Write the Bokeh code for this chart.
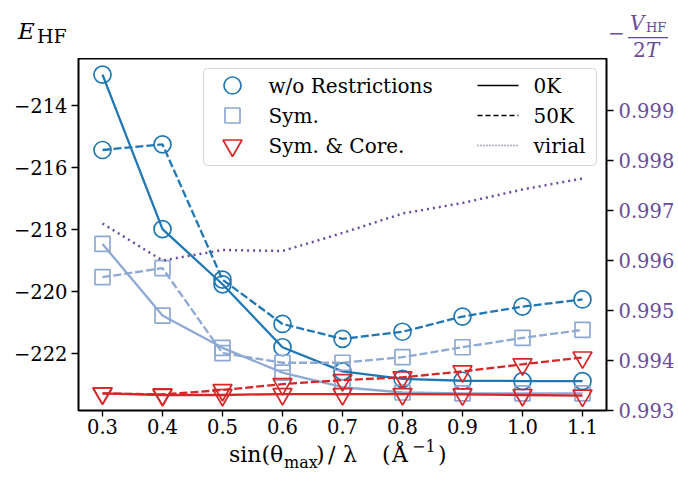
from bokeh.plotting import figure
from bokeh.layouts import column
from bokeh.models import Range1d, LinearAxis, FixedTicker, BoxAnnotation, Div
from bokeh.core.properties import value
from bokeh.embed import file_html
from bokeh.resources import INLINE

# ---------------- data ----------------
x_vals = [0.3, 0.4, 0.5, 0.6, 0.7, 0.8, 0.9, 1.0, 1.1]
wo_0K = [-213.02, -218.00, -219.78, -221.81, -222.59, -222.83, -222.89, -222.90, -222.90]
wo_50K = [-215.45, -215.27, -219.63, -221.06, -221.54, -221.31, -220.82, -220.50, -220.27]
sym_0K = [-218.48, -220.79, -221.83, -222.63, -223.10, -223.27, -223.30, -223.30, -223.30]
sym_50K = [-219.55, -219.26, -222.00, -222.31, -222.31, -222.13, -221.81, -221.51, -221.25]
core_0K = [-223.30, -223.35, -223.35, -223.32, -223.32, -223.32, -223.33, -223.35, -223.37]
core_50K = [-223.30, -223.33, -223.19, -223.00, -222.87, -222.78, -222.59, -222.36, -222.14]
virial = [0.99674, 0.99600, 0.99621, 0.99619, 0.99655, 0.99694, 0.99715, 0.99742, 0.99764]

x_ticks = [0.3, 0.4, 0.5, 0.6, 0.7, 0.8, 0.9, 1.0, 1.1]
x_tick_labels = ["0.3", "0.4", "0.5", "0.6", "0.7", "0.8", "0.9", "1.0", "1.1"]
left_ticks = [-222, -220, -218, -216, -214]
left_tick_labels = ["\u2212222", "\u2212220", "\u2212218", "\u2212216", "\u2212214"]
right_ticks = [0.993, 0.994, 0.995, 0.996, 0.997, 0.998, 0.999]
right_tick_labels = ["0.993", "0.994", "0.995", "0.996", "0.997", "0.998", "0.999"]

legend_markers = ["w/o Restrictions", "Sym.", "Sym. & Core."]
legend_lines = ["0K", "50K", "virial"]

# ---------------- style ----------------
BLUE = "#1f77b4"
LIGHT = "#8ea9d3"
RED = "#d62728"
PURPLE = "#6b4c9a"
FONT = "DejaVu Serif"

W = 678
TOP_H = 58
BL, BR, BB = 78, 72, 31
FH = 352
MAIN_H = FH + BB
BOT_H = 477 - TOP_H - MAIN_H
OVL = 12  # overlap of the title strips onto the plot's margin (transparent)
F_TOP, F_BOT, F_LEFT, F_RIGHT = TOP_H, TOP_H + FH, BL, W - BR
TEXT_DY = 9  # correction for bokeh's alphabetic baseline placement


def svg_text(x, y, t, size, color="black", italic=False):
    st = f"font-family:'{FONT}';font-size:{size}px;fill:{color};font-style:{'italic' if italic else 'normal'}"
    return f'<text x="{x}" y="{y}" style="{st}">{t}</text>'

# ---------------- top strip: axis titles (inline SVG text) ----------------
top_items = "".join([
    svg_text(18, 39, "E", 23, italic=True),
    svg_text(37, 43, "HF", 19),
    svg_text(608, 40, "\u2212", 20, PURPLE),
    svg_text(630, 30, "V", 20, PURPLE, italic=True),
    svg_text(646, 32, "HF", 13, PURPLE),
    f'<rect x="628" y="37" width="40" height="1.3" style="fill:{PURPLE}"/>',
    svg_text(633, 57, "2", 20, PURPLE),
    svg_text(646, 57, "T", 20, PURPLE, italic=True),
])
top_svg = (f'<svg xmlns="http://www.w3.org/2000/svg" width="{W}" height="{TOP_H + OVL}" '
           f'style="display:block;overflow:visible">{top_items}</svg>')
top = Div(text=top_svg, width=W, height=TOP_H + OVL, margin=(0, 0, -OVL, 0))

# ---------------- main plot ----------------
p = figure(width=W, height=MAIN_H, x_range=Range1d(0.26, 1.14), y_range=Range1d(-223.85, -212.5),
           output_backend="svg", toolbar_location=None,
           min_border_left=BL, min_border_right=BR, min_border_top=0, min_border_bottom=BB)
p.extra_y_ranges = {"vir": Range1d(0.993, 1.00004), "px": Range1d(F_BOT, F_TOP)}
p.extra_x_ranges = {"px": Range1d(F_LEFT, F_RIGHT)}
p.grid.grid_line_color = None
p.background_fill_color = "white"
p.border_fill_color = "white"
p.outline_line_color = "black"
p.outline_line_width = 2

raxis = LinearAxis(y_range_name="vir")
p.add_layout(raxis, "right")

p.xaxis[0].ticker = FixedTicker(ticks=x_ticks)
p.xaxis[0].major_label_overrides = dict(zip(x_ticks, x_tick_labels))
p.yaxis[0].ticker = FixedTicker(ticks=left_ticks)
p.yaxis[0].major_label_overrides = dict(zip(left_ticks, left_tick_labels))
raxis.ticker = FixedTicker(ticks=right_ticks)
raxis.major_label_overrides = dict(zip(right_ticks, right_tick_labels))

for ax in [p.xaxis[0], p.yaxis[0], raxis]:
    ax.axis_line_color = None
    ax.major_tick_line_color = "black"
    ax.major_tick_line_width = 1.3
    ax.major_tick_out = 7
    ax.major_tick_in = 0
    ax.minor_tick_line_color = None
    ax.major_label_text_font = FONT
    ax.major_label_text_font_size = "19.5px"
    ax.major_label_text_color = "black"
p.yaxis[0].major_label_standoff = 4
p.xaxis[0].major_tick_out = 6
p.xaxis[0].major_label_standoff = 2
raxis.major_label_standoff = 5
raxis.major_label_text_color = PURPLE

def series(y, color, marker, size, dash):
    p.line(x_vals, y, line_color=color, line_width=2.3, line_dash=dash)
    p.scatter(x_vals, y, marker=marker, size=size, fill_color=None,
              line_color=color, line_width=1.7)

series(wo_0K, BLUE, "circle", 17, "solid")
series(wo_50K, BLUE, "circle", 17, "8 3")
series(sym_0K, LIGHT, "square", 15, "solid")
series(sym_50K, LIGHT, "square", 15, "8 3")
series(core_0K, RED, "inverted_triangle", 19, "solid")
series(core_50K, RED, "inverted_triangle", 19, "8 3")
p.line(x_vals, virial, y_range_name="vir", line_color=PURPLE, line_width=2.5, line_dash="2 4")

# ---------------- legend (hand-drawn, page-pixel coordinates via the "px" ranges) ----------------
box = BoxAnnotation(left=203 - F_LEFT, right=596 - F_LEFT, top=F_BOT - 68, bottom=F_BOT - 165,
                    left_units="screen", right_units="screen", top_units="screen", bottom_units="screen",
                    fill_color="white", fill_alpha=0.8, line_color="#cccccc", line_alpha=0.8,
                    line_width=1, border_radius=4)
p.add_layout(box)

mk = [("circle", BLUE, 17), ("square", LIGHT, 15), ("inverted_triangle", RED, 19)]
rows_y = [85, 115, 145]
for (m, c, s), yy in zip(mk, rows_y):
    p.scatter([232], [yy], marker=m, size=s, fill_color=None, line_color=c, line_width=1.7,
              x_range_name="px", y_range_name="px", level="overlay")
ls = [("black", "solid", 1.6), ("black", "5 3", 1.6), (PURPLE, "1 2", 1.3)]
for (c, d, w), yy in zip(ls, rows_y):
    p.line([477, 518], [yy, yy], line_color=c, line_dash=d, line_width=w,
           x_range_name="px", y_range_name="px", level="overlay")

def txt(x, y, t, size):
    p.text(x=[x], y=[y - TEXT_DY], text=[t], text_font=value(FONT), text_font_size=value(f"{size}px"),
           text_color="black", text_baseline=value("alphabetic"), text_align=value("left"),
           x_range_name="px", y_range_name="px", level="overlay")

base_y = [94, 124, 154]
for t, yy in zip(legend_markers, base_y):
    txt(268, yy, t, 20)
for t, yy in zip(legend_lines, base_y):
    txt(533, yy, t, 20)

# ---------------- bottom strip: x-axis title (inline SVG text) ----------------
b0 = TOP_H + MAIN_H - OVL
pieces = [("sin(\u03b8", 229, 462, 22), ("max", 284, 468, 16), (")", 316, 462, 22),
          ("/", 328, 462, 22), ("\u03bb", 343, 462, 22), ("(", 382, 462, 22),
          ("\u00c5", 392, 462, 22), ("\u22121", 412, 452, 16), (")", 438, 462, 22)]
bot_items = "".join(svg_text(x, y - b0, t, s) for t, x, y, s in pieces)
bot_svg = (f'<svg xmlns="http://www.w3.org/2000/svg" width="{W}" height="{BOT_H + OVL}" '
           f'style="display:block;overflow:visible">{bot_items}</svg>')
bot = Div(text=bot_svg, width=W, height=BOT_H + OVL, margin=(-OVL, 0, 0, 0))

layout = column(top, p, bot, spacing=0)
open("out.html", "w").write(file_html(layout, INLINE))
